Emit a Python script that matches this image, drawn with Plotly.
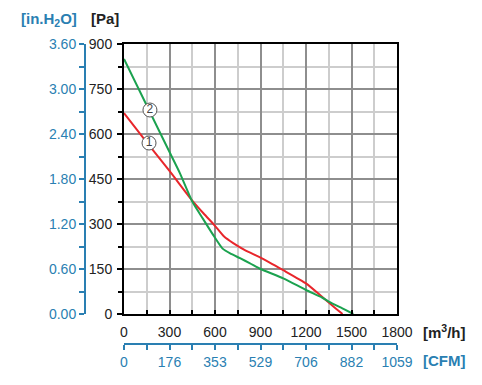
import plotly.graph_objects as go

# ---- data ----
red_q = [0, 150, 300, 450, 525, 600, 660, 720, 800, 900, 1050, 1200, 1300, 1350, 1400, 1441]
red_p = [670, 572, 477, 378, 335, 294, 258, 236, 212, 188, 146, 102, 60, 38, 17, 0]
green_q = [0, 150, 300, 369, 450, 520, 590, 650, 700, 765, 831, 900, 1050, 1200, 1306, 1350, 1450, 1512]
green_p = [850, 695, 540, 469, 375, 318, 262, 218, 202, 186, 169, 150, 119, 80, 55, 41, 16, 0]

x_ticks = [0, 300, 600, 900, 1200, 1500, 1800]
cfm_labels = ['0', '176', '353', '529', '706', '882', '1059']
y_ticks = [0, 150, 300, 450, 600, 750, 900]
inh2o_labels = ['0.00', '0.60', '1.20', '1.80', '2.40', '3.00', '3.60']

label_names = ['1', '2']
label_q = [165, 171]
label_p = [570, 680]

BLUE = '#2a7fb2'
RED = '#e8262b'
GREEN = '#1ba24f'
FONT = 'Liberation Sans, Arial, sans-serif'
W, H = 482, 385
OFF = 8  # page body margin

def px_x(p):
    return (p - OFF) / W

def px_y(p):
    return 1 - (p - OFF) / H

fig = go.Figure()
fig.add_trace(go.Scatter(x=red_q, y=red_p, mode='lines', line=dict(color=RED, width=2, shape='spline', smoothing=0.5),
                         showlegend=False, hoverinfo='skip'))
fig.add_trace(go.Scatter(x=green_q, y=green_p, mode='lines', line=dict(color=GREEN, width=2, shape='spline', smoothing=0.5),
                         showlegend=False, hoverinfo='skip'))
fig.add_trace(go.Scatter(x=label_q, y=label_p, mode='markers+text', text=label_names,
                         textposition='middle center', textfont=dict(family=FONT, size=12, color='#444'),
                         marker=dict(symbol='circle', size=14, color='white', line=dict(color='#555', width=1)),
                         showlegend=False, hoverinfo='skip', cliponaxis=False))
# invisible carriers so that the secondary axes are drawn
fig.add_trace(go.Scatter(x=x_ticks, y=[0] * len(x_ticks), xaxis='x2', yaxis='y', mode='markers',
                         marker=dict(opacity=0), showlegend=False, hoverinfo='skip'))
fig.add_trace(go.Scatter(x=[0] * len(y_ticks), y=y_ticks, xaxis='x', yaxis='y2', mode='markers',
                         marker=dict(opacity=0), showlegend=False, hoverinfo='skip'))

major_grid = '#8e8e8e'
minor_grid = '#cdcdcd'

def note(text, x, y, color, xanchor='center'):
    return dict(text=text, x=px_x(x), y=px_y(y), xref='paper', yref='paper', showarrow=False,
                xanchor=xanchor, yanchor='middle', font=dict(size=15, color=color, family=FONT))

fig.update_layout(
    width=W, height=H,
    margin=dict(l=0, r=0, t=0, b=0, autoexpand=False),
    paper_bgcolor='white', plot_bgcolor='white',
    font=dict(family=FONT, size=14, color='#222'),
    xaxis=dict(domain=[px_x(124), px_x(397)], range=[0, 1800], tickmode='array', tickvals=x_ticks,
               ticks='inside', ticklen=4, tickwidth=1.5, tickcolor='black',
               showgrid=True, gridcolor=major_grid, gridwidth=1.5,
               showline=True, linecolor='black', linewidth=2, mirror=True,
               zeroline=False, ticklabelstandoff=4,
               minor=dict(tickmode='linear', tick0=0, dtick=150, ticks='inside', ticklen=4, tickcolor='black',
                          showgrid=True, gridcolor=minor_grid, gridwidth=1.5),
               automargin=False, fixedrange=True),
    yaxis=dict(domain=[px_y(314), px_y(44)], range=[0, 900], tickmode='array', tickvals=y_ticks,
               ticks='outside', ticklen=5, tickwidth=1.5, tickcolor='black',
               showgrid=True, gridcolor=major_grid, gridwidth=1.5,
               showline=True, linecolor='black', linewidth=2, mirror=True,
               zeroline=False, ticklabelstandoff=2,
               minor=dict(tickmode='linear', tick0=0, dtick=75, ticks='outside', ticklen=4, tickcolor='black',
                          showgrid=True, gridcolor=minor_grid, gridwidth=1.5),
               automargin=False, fixedrange=True),
    xaxis2=dict(overlaying='x', anchor='free', position=px_y(344), side='bottom', range=[0, 1800],
                tickmode='array', tickvals=x_ticks, ticktext=cfm_labels,
                ticks='outside', ticklen=5, tickwidth=1.5, tickcolor=BLUE,
                showline=True, linecolor=BLUE, linewidth=2, showgrid=False, zeroline=False,
                tickfont=dict(color=BLUE, size=14, family=FONT),
                minor=dict(tickmode='linear', tick0=0, dtick=150, ticks='outside', ticklen=5, tickcolor=BLUE),
                automargin=False, fixedrange=True),
    yaxis2=dict(overlaying='y', anchor='free', position=px_x(85), side='left', range=[0, 900],
                tickmode='array', tickvals=y_ticks, ticktext=inh2o_labels,
                ticks='outside', ticklen=5, tickwidth=1.5, tickcolor=BLUE,
                showline=True, linecolor=BLUE, linewidth=2, showgrid=False, zeroline=False,
                tickfont=dict(color=BLUE, size=14, family=FONT),
                minor=dict(tickmode='linear', tick0=0, dtick=75, ticks='outside', ticklen=5, tickcolor=BLUE),
                automargin=False, fixedrange=True),
    annotations=[
        note('<b>[Pa]</b>', 105, 18, '#222'),
        note('<b>[in.H<sub>2</sub>O]</b>', 49, 19, BLUE),
        note('<b>[m<sup>3</sup>/h]</b>', 421, 331, '#222', 'left'),
        note('<b>[CFM]</b>', 421, 360, BLUE, 'left'),
    ],
)

fig.write_html('out.html', config={'displayModeBar': False})
